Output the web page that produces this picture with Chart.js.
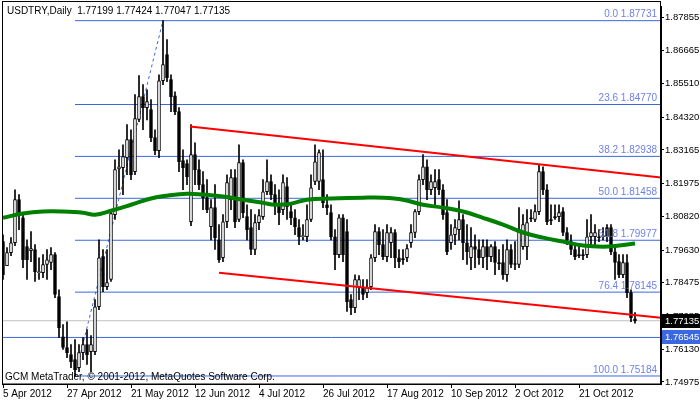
<!DOCTYPE html>
<html><head><meta charset="utf-8">
<script src="https://cdn.jsdelivr.net/npm/chart.js@4/dist/chart.umd.min.js"></script>
<style>html,body{margin:0;padding:0;background:#fff}#w{width:700px;height:402px}</style>
</head><body><div id="w"><canvas id="c"></canvas></div>
<script>
const opens=[1.7993,1.7908,1.7954,1.7989,1.8141,1.8077,1.7975,1.7961,1.7965,1.7883,1.7883,1.7912,1.7919,1.7947,1.7799,1.7657,1.7619,1.7594,1.7576,1.7548,1.7601,1.7629,1.7604,1.7604,1.7763,1.7940,1.7834,1.7859,1.8088,1.8250,1.8254,1.8289,1.8353,1.8240,1.8424,1.8505,1.8466,1.8459,1.8360,1.8314,1.8561,1.8653,1.8565,1.8508,1.8452,1.8279,1.8268,1.8063,1.8300,1.8247,1.8194,1.8148,1.8046,1.8113,1.7999,1.7936,1.8063,1.8141,1.8219,1.8071,1.8272,1.8081,1.8042,1.7965,1.8060,1.8081,1.8169,1.8205,1.8159,1.8123,1.8106,1.8187,1.8099,1.8077,1.8042,1.8010,1.8010,1.8071,1.8205,1.8205,1.8212,1.8123,1.8095,1.8010,1.7947,1.8077,1.8028,1.7788,1.7760,1.7830,1.7830,1.7813,1.7834,1.7936,1.8028,1.7982,1.7940,1.7989,1.8025,1.7936,1.7933,1.7936,1.7989,1.8025,1.8099,1.8212,1.8257,1.8176,1.8183,1.8212,1.8176,1.8095,1.7989,1.8017,1.8035,1.8071,1.7989,1.7936,1.7975,1.7965,1.7936,1.7975,1.7940,1.7975,1.7919,1.7919,1.7876,1.7965,1.7915,1.7912,1.7975,1.7975,1.8077,1.8071,1.8099,1.8240,1.8176,1.8071,1.8081,1.8081,1.8099,1.8025,1.7993,1.7965,1.7947,1.7947,1.7947,1.8010,1.8010,1.8010,1.8010,1.8042,1.8042,1.7957,1.7922,1.7876,1.7919,1.7813,1.77199];
const closes=[1.7876,1.7954,1.7989,1.8141,1.8095,1.7929,1.7929,1.7968,1.7887,1.7887,1.7912,1.7929,1.7947,1.7806,1.7689,1.7619,1.7601,1.7569,1.7541,1.7601,1.7629,1.7594,1.7629,1.7763,1.7936,1.7834,1.7848,1.8092,1.8247,1.8257,1.8293,1.8353,1.8229,1.8427,1.8505,1.8466,1.8487,1.8360,1.8314,1.8561,1.8618,1.8572,1.8505,1.8452,1.8275,1.8254,1.8222,1.8300,1.8247,1.8194,1.8148,1.8106,1.8113,1.8007,1.7929,1.8063,1.8201,1.8219,1.8063,1.8272,1.8095,1.8035,1.7965,1.8060,1.8085,1.8169,1.8205,1.8159,1.8130,1.8095,1.8201,1.8116,1.8077,1.8046,1.8010,1.8014,1.8071,1.8183,1.8275,1.8307,1.8130,1.8113,1.8010,1.7947,1.8077,1.7947,1.7781,1.7760,1.7859,1.7859,1.7806,1.7830,1.7936,1.8028,1.7982,1.7940,1.8025,1.8025,1.7936,1.7922,1.7929,1.7968,1.8025,1.8099,1.8212,1.8257,1.8176,1.8205,1.8205,1.8176,1.8088,1.7957,1.8017,1.8042,1.8071,1.7989,1.7957,1.7975,1.7965,1.7936,1.7975,1.7940,1.7975,1.7919,1.7915,1.7876,1.7965,1.7912,1.7912,1.8035,1.8053,1.8060,1.8074,1.8099,1.8240,1.8176,1.8063,1.8067,1.8077,1.8095,1.8025,1.7999,1.7965,1.7940,1.7943,1.7943,1.8010,1.8025,1.8025,1.8007,1.8014,1.8010,1.7957,1.7919,1.7876,1.7919,1.7813,1.7724,1.77135];
const highs=[1.8017,1.7972,1.8007,1.8176,1.8159,1.8088,1.7999,1.8028,1.7982,1.7936,1.7947,1.7965,1.7972,1.7954,1.7823,1.7700,1.7710,1.7629,1.7647,1.7629,1.7654,1.7682,1.7661,1.7788,1.7999,1.7965,1.7965,1.8106,1.8282,1.8317,1.8335,1.8406,1.8388,1.8512,1.8579,1.8547,1.8529,1.8494,1.8388,1.8582,1.87731,1.8706,1.8582,1.8522,1.8466,1.8317,1.8282,1.8406,1.8342,1.8282,1.8240,1.8212,1.8141,1.8194,1.8053,1.8088,1.8229,1.8247,1.8247,1.8335,1.8282,1.8123,1.8106,1.8088,1.8106,1.8212,1.8282,1.8229,1.8194,1.8176,1.8229,1.8219,1.8123,1.8106,1.8071,1.8053,1.8123,1.8229,1.8335,1.8317,1.8317,1.8159,1.8123,1.8035,1.8088,1.8088,1.8071,1.7806,1.7876,1.7873,1.7859,1.7859,1.7947,1.8053,1.8042,1.8035,1.8053,1.8042,1.8035,1.7965,1.7965,1.7982,1.8053,1.8106,1.8229,1.8300,1.8282,1.8229,1.8247,1.8247,1.8194,1.8141,1.8053,1.8071,1.8137,1.8088,1.8053,1.8042,1.8017,1.7999,1.7999,1.7999,1.7982,1.7993,1.7965,1.7982,1.7999,1.7982,1.7993,1.8113,1.8088,1.8106,1.8106,1.8123,1.8265,1.8257,1.8194,1.8123,1.8123,1.8123,1.8113,1.8042,1.8017,1.7982,1.7982,1.7965,1.8071,1.8088,1.8053,1.8035,1.8042,1.8053,1.8053,1.7982,1.7947,1.7947,1.7947,1.7823,1.77424];
const lows=[1.7859,1.7908,1.7943,1.7979,1.8035,1.7901,1.7859,1.7922,1.7852,1.7859,1.7866,1.7859,1.7894,1.7795,1.7654,1.7612,1.7583,1.7548,1.75184,1.7534,1.7576,1.7559,1.7534,1.7594,1.7753,1.7816,1.7823,1.7852,1.8071,1.8176,1.8159,1.8229,1.8212,1.8229,1.8416,1.8388,1.8423,1.8346,1.8300,1.8289,1.8547,1.8558,1.8452,1.8441,1.8240,1.8176,1.8194,1.8049,1.8194,1.8176,1.8106,1.8095,1.7999,1.7965,1.7919,1.7922,1.8042,1.8106,1.8042,1.8063,1.8077,1.7999,1.7947,1.7947,1.8035,1.8071,1.8159,1.8141,1.8088,1.8053,1.8088,1.8071,1.8053,1.8017,1.7982,1.7999,1.7993,1.8063,1.8194,1.8176,1.8113,1.8088,1.7999,1.7894,1.7936,1.7922,1.7746,1.7735,1.7742,1.7788,1.7788,1.7795,1.7823,1.7922,1.7947,1.7929,1.7922,1.7936,1.7901,1.7901,1.7912,1.7922,1.7972,1.8007,1.8088,1.8194,1.8141,1.8159,1.8123,1.8159,1.8071,1.7947,1.7965,1.7982,1.7999,1.7929,1.7912,1.7894,1.7901,1.7912,1.7901,1.7894,1.7922,1.7876,1.7894,1.7859,1.7852,1.7901,1.7894,1.7901,1.7965,1.7929,1.8063,1.8063,1.8088,1.8159,1.8053,1.8053,1.8071,1.8063,1.8014,1.7982,1.7947,1.7929,1.7936,1.7929,1.7936,1.7982,1.7982,1.7993,1.7999,1.7993,1.7947,1.7859,1.7866,1.7866,1.7795,1.7710,1.77047];
const dateLabels=["5 Apr 2012","27 Apr 2012","21 May 2012","12 Jun 2012","4 Jul 2012","26 Jul 2012","17 Aug 2012","10 Sep 2012","2 Oct 2012","21 Oct 2012"];
const dateBars=[0,16,32,48,64,80,96,112,128,144];
const yTicks=[1.87855,1.86665,1.85510,1.84320,1.83165,1.81975,1.80820,1.79630,1.78475,1.77285,1.76130,1.74975];
const maBars=[0,5,10,15,20,23,27,32,37,41,46,50,55,60,65,68,72,76,82,90,95,100,105,110,115,120,125,130,135,140,145,150,154,158];
const maValues=[1.8077,1.8092,1.8099,1.8099,1.8095,1.8088,1.8102,1.8123,1.8145,1.8155,1.8162,1.8159,1.8152,1.8141,1.8130,1.8123,1.8127,1.8141,1.8145,1.8148,1.8148,1.8141,1.8123,1.8113,1.8099,1.8077,1.8053,1.8025,1.8007,1.7993,1.7979,1.7975,1.7979,1.7986];
const fibLevels=["0.0","23.6","38.2","50.0","61.8","76.4","100.0"];
const fibPrices=[1.87731,1.84770,1.82938,1.81458,1.79977,1.78145,1.75184];
const fibStartBar=18, fibEndBar=40;
const upperTrend=[[46.75,1.8399],[164.5,1.8219]];
const lowerTrend=[[54,1.7883],[164.5,1.7724]];
const lastPrice=1.77135, alertPrice=1.76545;
const header="USDTRY,Daily  1.77199 1.77424 1.77047 1.77135";
const footer="GCM MetaTrader, © 2001-2012, MetaQuotes Software Corp.";

const XMIN=-0.25, XMAX=164.5, YMIN=1.74901, YMAX=1.88224;
const FAM="'Liberation Sans'";
const FONT="10px "+FAM;
const AXFONT="9.5px "+FAM;
const FIB="#3b68e0";
const datasets=[];
fibPrices.forEach(p=>datasets.push({type:'line',data:[{x:fibStartBar,y:p},{x:XMAX,y:p}],borderColor:FIB,borderWidth:1,pointRadius:0,order:10}));
datasets.push({type:'line',data:[{x:XMIN,y:lastPrice},{x:XMAX,y:lastPrice}],borderColor:"#c0c0c0",borderWidth:1,pointRadius:0,order:10});
datasets.push({type:'line',data:[{x:XMIN,y:alertPrice},{x:XMAX,y:alertPrice}],borderColor:FIB,borderWidth:1,pointRadius:0,order:10});
datasets.push({type:'line',data:[{x:fibStartBar,y:fibPrices[6]},{x:fibEndBar,y:fibPrices[0]}],borderColor:FIB,borderWidth:1,borderDash:[3,3],pointRadius:0,order:10});
datasets.push({type:'bar',data:opens.map((o,i)=>({x:i,y:[lows[i],highs[i]]})),backgroundColor:"#000",barThickness:1,grouped:false,order:5});
datasets.push({type:'bar',data:opens.map((o,i)=>({x:i,y:[o,Math.abs(closes[i]-o)<0.00015?o+(closes[i]>=o?0.00015:-0.00015):closes[i]]})),
  backgroundColor:opens.map((o,i)=>closes[i]>=o?"#fff":"#000"),borderColor:"#000",borderWidth:1,borderSkipped:false,barThickness:3,grouped:false,order:4});
datasets.push({type:'line',data:maBars.map((b,i)=>({x:b,y:maValues[i]})),borderColor:"#008000",borderWidth:4,pointRadius:0,tension:0.4,order:3});
datasets.push({type:'line',data:upperTrend.map(p=>({x:p[0],y:p[1]})),borderColor:"#ff0000",borderWidth:2,pointRadius:0,order:2});
datasets.push({type:'line',data:lowerTrend.map(p=>({x:p[0],y:p[1]})),borderColor:"#ff0000",borderWidth:2,pointRadius:0,order:2});

const deco={id:'deco',afterDraw(ch){
  const c=ch.ctx,a=ch.chartArea,ys=ch.scales.y;
  c.save();
  c.strokeStyle="#000";c.lineWidth=1;
  c.strokeRect(a.left+0.5,1.5,a.right-a.left-1,a.bottom-1.5);
  c.font=FONT;c.textBaseline="middle";
  c.fillStyle="#000";c.textAlign="left";
  c.fillText(header,7,11);
  c.fillText(footer,5,377);
  c.fillStyle="#6f80e8";c.textAlign="right";
  fibPrices.forEach((p,i)=>c.fillText(fibLevels[i]+" "+p.toFixed(5),a.right-4,ys.getPixelForValue(p)-6));
  c.textAlign="left";c.font=AXFONT;
  const box=(p,bg)=>{const y=Math.round(ys.getPixelForValue(p));c.fillStyle=bg;c.fillRect(a.right+1,y-7,700-a.right-1,14);c.fillStyle="#fff";c.fillText(p.toFixed(5),a.right+4,y);};
  box(lastPrice,"#000");box(alertPrice,"#3b68e0");
  c.restore();
}};

new Chart(document.getElementById('c'),{
  data:{datasets},
  options:{responsive:true,maintainAspectRatio:false,animation:false,
    layout:{padding:{left:2,top:2,right:0,bottom:0}},
    plugins:{legend:{display:false},tooltip:{enabled:false}},
    scales:{
      x:{type:'linear',min:XMIN,max:XMAX,offset:false,
        afterFit(s){s.height=18;},
        afterBuildTicks(s){s.ticks=dateBars.map(v=>({value:v}));},
        grid:{drawOnChartArea:false,tickLength:4,color:"#000",offset:false},border:{color:"#000"},
        ticks:{align:'start',padding:0,maxRotation:0,autoSkip:false,color:"#000",font:{family:'Liberation Sans',size:10},
          callback:(v)=>dateLabels[dateBars.indexOf(v)]}},
      y:{type:'linear',position:'right',min:YMIN,max:YMAX,
        afterFit(s){s.width=39;},
        afterBuildTicks(s){s.ticks=yTicks.map(v=>({value:v}));},
        grid:{drawOnChartArea:false,tickLength:3,color:"#000"},border:{color:"#000"},
        ticks:{padding:1,autoSkip:false,color:"#000",font:{family:'Liberation Sans',size:9.5},callback:(v)=>v.toFixed(5)}}
    }},
  plugins:[deco]
});
</script></body></html>
